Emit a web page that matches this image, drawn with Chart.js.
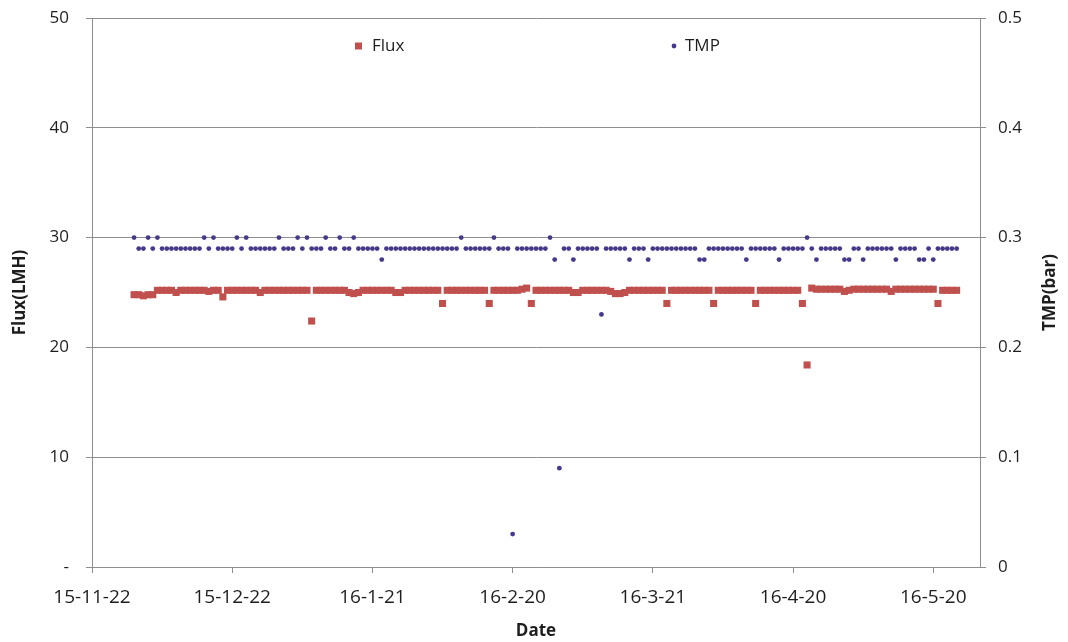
<!DOCTYPE html>
<html>
<head>
<meta charset="utf-8">
<script src="https://cdn.jsdelivr.net/npm/chart.js@4.4.0/dist/chart.umd.min.js"></script>
<style>
html,body{margin:0;padding:0;background:#ffffff;}
canvas{display:block;}
</style>
</head>
<body>
<canvas id="c" width="1068" height="642"></canvas>
<script>
// ---- data ----
const axisStartDate = '2015-11-22';
const axisEndDate = '2016-05-30';
const firstDate = '2015-12-01';   // first daily sample
const tickLabels = ['15-11-22','15-12-22','16-1-21','16-2-20','16-3-21','16-4-20','16-5-20'];
const seriesNames = ['Flux', 'TMP'];
const leftTitle = 'Flux(LMH)';
const rightTitle = 'TMP(bar)';
const xTitle = 'Date';

// Flux (LMH), one value per day from firstDate
const fluxValues = [
  24.8,24.8,24.7,24.8,24.8,25.2,25.2,25.2,25.2,25.0,
  25.2,25.2,25.2,25.2,25.2,25.2,25.1,25.2,25.2,24.6,
  25.2,25.2,25.2,25.2,25.2,25.2,25.2,25.0,25.2,25.2,
  25.2,25.2,25.2,25.2,25.2,25.2,25.2,25.2,22.4,25.2,
  25.2,25.2,25.2,25.2,25.2,25.2,25.0,24.9,25.0,25.2,
  25.2,25.2,25.2,25.2,25.2,25.2,25.0,25.0,25.2,25.2,
  25.2,25.2,25.2,25.2,25.2,25.2,24.0,25.2,25.2,25.2,
  25.2,25.2,25.2,25.2,25.2,25.2,24.0,25.2,25.2,25.2,
  25.2,25.2,25.2,25.3,25.4,24.0,25.2,25.2,25.2,25.2,
  25.2,25.2,25.2,25.2,25.0,25.0,25.2,25.2,25.2,25.2,
  25.2,25.2,25.1,24.9,24.9,25.0,25.2,25.2,25.2,25.2,
  25.2,25.2,25.2,25.2,24.0,25.2,25.2,25.2,25.2,25.2,
  25.2,25.2,25.2,25.2,24.0,25.2,25.2,25.2,25.2,25.2,
  25.2,25.2,25.2,24.0,25.2,25.2,25.2,25.2,25.2,25.2,
  25.2,25.2,25.2,24.0,18.4,25.4,25.3,25.3,25.3,25.3,
  25.3,25.3,25.1,25.2,25.3,25.3,25.3,25.3,25.3,25.3,
  25.3,25.3,25.1,25.3,25.3,25.3,25.3,25.3,25.3,25.3,
  25.3,25.3,24.0,25.2,25.2,25.2,25.2
];

// TMP (bar), one value per day from firstDate
const tmpValues = [
  0.30,0.29,0.29,0.30,0.29,0.30,0.29,0.29,0.29,0.29,
  0.29,0.29,0.29,0.29,0.29,0.30,0.29,0.30,0.29,0.29,
  0.29,0.29,0.30,0.29,0.30,0.29,0.29,0.29,0.29,0.29,
  0.29,0.30,0.29,0.29,0.29,0.30,0.29,0.30,0.29,0.29,
  0.29,0.30,0.29,0.29,0.30,0.29,0.29,0.30,0.29,0.29,
  0.29,0.29,0.29,0.28,0.29,0.29,0.29,0.29,0.29,0.29,
  0.29,0.29,0.29,0.29,0.29,0.29,0.29,0.29,0.29,0.29,
  0.30,0.29,0.29,0.29,0.29,0.29,0.29,0.30,0.29,0.29,
  0.29,0.03,0.29,0.29,0.29,0.29,0.29,0.29,0.29,0.30,
  0.28,0.09,0.29,0.29,0.28,0.29,0.29,0.29,0.29,0.29,
  0.23,0.29,0.29,0.29,0.29,0.29,0.28,0.29,0.29,0.29,
  0.28,0.29,0.29,0.29,0.29,0.29,0.29,0.29,0.29,0.29,
  0.29,0.28,0.28,0.29,0.29,0.29,0.29,0.29,0.29,0.29,
  0.29,0.28,0.29,0.29,0.29,0.29,0.29,0.29,0.28,0.29,
  0.29,0.29,0.29,0.29,0.30,0.29,0.28,0.29,0.29,0.29,
  0.29,0.29,0.28,0.28,0.29,0.29,0.28,0.29,0.29,0.29,
  0.29,0.29,0.29,0.28,0.29,0.29,0.29,0.29,0.28,0.28,
  0.29,0.28,0.29,0.29,0.29,0.29,0.29
];

// ---- helpers ----
const DAY = 86400000;
function parseISO(s){ const [y,m,d] = s.split('-').map(Number); return Date.UTC(y, m-1, d); }
function parseShort(s){ const [y,m,d] = s.split('-').map(Number); return Date.UTC(2000+y, m-1, d); }
const origin = parseISO(axisStartDate);
const firstDay = Math.round((parseISO(firstDate) - origin) / DAY);
const maxDay = Math.round((parseISO(axisEndDate) - origin) / DAY);
const tickDays = tickLabels.map(t => Math.round((parseShort(t) - origin) / DAY));

const fluxData = fluxValues.map((v, i) => ({x: firstDay + i, y: v}));
const tmpData = tmpValues.map((v, i) => ({x: firstDay + i, y: v}));

const FONT = "'Open Sans', 'DejaVu Sans', sans-serif";
const GRID = '#8e8e8e';
const TXT = '#1e1e1e';
const RED = '#C0504D';
const PURPLE = '#45398A';

function fixVertical(width) {
  return s => { s.width = width; s.paddingTop = 0; s.paddingBottom = 0; };
}

const overlay = {
  id: 'overlay',
  afterDraw(chart) {
    const ctx = chart.ctx;
    const area = chart.chartArea;
    ctx.save();
    // legend
    ctx.font = '17px ' + FONT;
    ctx.textBaseline = 'middle';
    ctx.textAlign = 'left';
    const ly = 46;
    ctx.fillStyle = RED;
    ctx.fillRect(355, ly - 3.5, 7, 7);
    ctx.fillStyle = TXT;
    ctx.fillText(seriesNames[0], 372, ly);
    ctx.fillStyle = PURPLE;
    ctx.beginPath();
    ctx.arc(674, ly, 2.4, 0, Math.PI * 2);
    ctx.fill();
    ctx.fillStyle = TXT;
    ctx.fillText(seriesNames[1], 685, ly);
    // right axis title
    ctx.font = 'bold 17px ' + FONT;
    ctx.textAlign = 'center';
    ctx.translate(1050, (area.top + area.bottom) / 2);
    ctx.rotate(-Math.PI / 2);
    ctx.fillText(rightTitle, 0, 0);
    ctx.restore();
  }
};

new Chart(document.getElementById('c'), {
  type: 'scatter',
  data: {
    datasets: [
      {
        label: seriesNames[0],
        data: fluxData,
        yAxisID: 'y',
        pointStyle: 'rect',
        pointRadius: 5,
        borderWidth: 0,
        backgroundColor: RED,
        borderColor: RED,
        showLine: false
      },
      {
        label: seriesNames[1],
        data: tmpData,
        yAxisID: 'y1',
        pointStyle: 'circle',
        pointRadius: 2.4,
        borderWidth: 0,
        backgroundColor: PURPLE,
        borderColor: PURPLE,
        showLine: false
      }
    ]
  },
  options: {
    responsive: false,
    animation: false,
    events: [],
    devicePixelRatio: 1,
    layout: { padding: { top: 18, left: 0, right: 0, bottom: 0 } },
    plugins: { legend: { display: false }, tooltip: { enabled: false } },
    scales: {
      x: {
        type: 'linear',
        position: 'bottom',
        min: 0,
        max: maxDay,
        afterBuildTicks: s => { s.ticks = tickDays.map(v => ({value: v})); },
        afterFit: s => { s.height = 75; },
        grid: { display: true, drawOnChartArea: false, drawTicks: true, tickLength: 6, color: GRID, lineWidth: 1 },
        border: { display: true, color: GRID, width: 1 },
        ticks: {
          font: { family: FONT, size: 19 },
          color: TXT,
          padding: 13,
          maxRotation: 0,
          autoSkip: false,
          callback: (v, i) => tickLabels[i]
        },
        title: {
          display: true,
          text: xTitle,
          font: { family: FONT, size: 17, weight: 'bold' },
          color: TXT,
          padding: { top: 0, bottom: 1 }
        }
      },
      y: {
        position: 'left',
        min: 0,
        max: 50,
        afterFit: fixVertical(92),
        grid: { display: true, drawTicks: true, tickLength: 6, color: GRID, lineWidth: 1 },
        border: { display: true, color: GRID, width: 1 },
        ticks: {
          stepSize: 10,
          font: { family: FONT, size: 17 },
          color: TXT,
          padding: 17,
          callback: v => (v === 0 ? '-' : String(v))
        },
        title: {
          display: true,
          text: leftTitle,
          font: { family: FONT, size: 17, weight: 'bold' },
          color: TXT,
          padding: { top: 10, bottom: 0 }
        }
      },
      y1: {
        position: 'right',
        min: 0,
        max: 0.5,
        afterFit: fixVertical(88),
        grid: { display: true, drawOnChartArea: false, drawTicks: true, tickLength: 6, color: GRID, lineWidth: 1 },
        border: { display: true, color: GRID, width: 1 },
        ticks: {
          stepSize: 0.1,
          font: { family: FONT, size: 17 },
          color: TXT,
          padding: 12,
          callback: v => (v === 0 ? '0' : Number(v).toFixed(1))
        },
        title: { display: false }
      }
    }
  },
  plugins: [overlay]
});
</script>
</body>
</html>
